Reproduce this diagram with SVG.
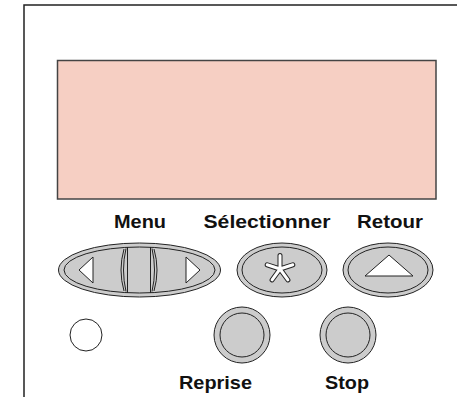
<svg xmlns="http://www.w3.org/2000/svg" width="457" height="397" viewBox="0 0 457 397">
<style>
.lbl{font-family:"Liberation Sans",Arial,sans-serif;font-weight:bold;font-size:18px;fill:#111;text-anchor:middle}
.btn{fill:#cccccc;stroke:#222;stroke-width:1}
.wht{fill:#fff;stroke:#222;stroke-width:1}
.ln{fill:none;stroke:#222;stroke-width:1}
</style>
<rect width="457" height="397" fill="#fff"/>
<g id="frame">
<path d="M24,397 V5 H457" fill="none" stroke="#222" stroke-width="1.5"/>
</g>
<g id="display">
<rect x="57.5" y="60.5" width="378.5" height="138.5" fill="#f6cfc3" stroke="#444" stroke-width="1.5"/>
</g>
<g id="menu">
<ellipse class="btn" cx="139.5" cy="270" rx="81" ry="27"/>
<ellipse class="btn" cx="139.5" cy="270" rx="75.5" ry="23"/>
<path class="wht" d="M93,257 L79,270 L93,283 Z"/>
<path class="wht" d="M186,257 L200,270 L186,283 Z"/>
<path class="ln" d="M127.5,247 V293 M150.5,247 V293"/>
<path class="ln" d="M124,249 Q118,270 124,291 M126,248.5 Q121,270 126,291.5"/>
<path class="ln" d="M154,249 Q160,270 154,291 M152,248.5 Q157,270 152,291.5"/>
<text class="lbl" x="140" y="228" textLength="52" lengthAdjust="spacingAndGlyphs">Menu</text>
</g>
<g id="selectionner">
<ellipse class="btn" cx="282" cy="270" rx="45" ry="27"/>
<ellipse class="btn" cx="282" cy="270" rx="40" ry="23"/>
<g stroke-linecap="round" fill="none">
<path d="M280,269 V255.5 M280,269 L292.8,264.8 M280,269 L287.9,279.9 M280,269 L272.1,279.9 M280,269 L267.2,264.8" stroke="#222" stroke-width="5"/>
<path d="M280,269 V255.5 M280,269 L292.8,264.8 M280,269 L287.9,279.9 M280,269 L272.1,279.9 M280,269 L267.2,264.8" stroke="#fff" stroke-width="3"/>
</g>
<text class="lbl" x="267" y="228" textLength="127" lengthAdjust="spacingAndGlyphs">Sélectionner</text>
</g>
<g id="retour">
<ellipse class="btn" cx="388" cy="270" rx="45" ry="27"/>
<ellipse class="btn" cx="388" cy="270" rx="40" ry="23"/>
<path class="wht" d="M365,276 L413,276 L389,255 Z"/>
<text class="lbl" x="390" y="228" textLength="66" lengthAdjust="spacingAndGlyphs">Retour</text>
</g>
<g id="indicator">
<circle class="wht" cx="86" cy="335" r="16"/>
</g>
<g id="reprise">
<circle class="btn" cx="242" cy="335" r="28"/>
<circle class="btn" cx="242" cy="335" r="22"/>
<text class="lbl" x="215.5" y="389" textLength="73" lengthAdjust="spacingAndGlyphs">Reprise</text>
</g>
<g id="stop">
<circle class="btn" cx="348" cy="335" r="28"/>
<circle class="btn" cx="348" cy="335" r="22"/>
<text class="lbl" x="347" y="389" textLength="44" lengthAdjust="spacingAndGlyphs">Stop</text>
</g>
<g id="connectors"></g>
</svg>
